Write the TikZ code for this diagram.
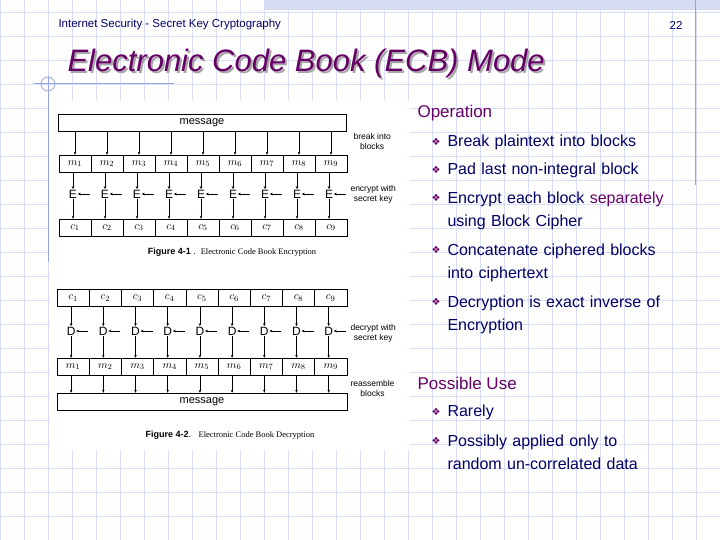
\documentclass[tikz,border=0pt]{standalone}
\usepackage{fontspec}
\setmainfont{Liberation Sans}
\newfontfamily\dejavu{DejaVu Sans}
\usetikzlibrary{arrows.meta}
\definecolor{grid}{RGB}{215,222,245}
\definecolor{purp}{RGB}{102,0,102}
\definecolor{navy}{RGB}{0,0,102}
\definecolor{lineblue}{RGB}{150,165,225}
\begin{document}
\begin{tikzpicture}[x=1pt,y=-1pt,
  cell/.style={draw,minimum width=32pt,minimum height=17pt,inner sep=0pt,font=\fontsize{11}{11}\selectfont\itshape},
  bar/.style={draw,minimum width=288pt,minimum height=17pt,inner sep=0pt,font=\fontsize{11}{11}\selectfont},
  op/.style={inner sep=0.5pt,font=\fontsize{12}{12}\selectfont},
  arr/.style={-{Stealth[length=3pt,width=2.5pt]},line width=0.5pt},
  side/.style={align=center,font=\fontsize{8.5}{10}\selectfont,anchor=west},
  figcap/.style={font=\fontsize{9}{9}\selectfont},
  bl/.style={anchor=west,text=navy,font=\fontsize{16}{23}\selectfont,align=left,text width=270pt},
  bul/.style={anchor=west,text=purp,font=\dejavu\fontsize{10}{10}\selectfont},
  hd/.style={anchor=west,text=purp,font=\fontsize{17}{17}\selectfont}]
\useasboundingbox (0,0) rectangle (720,540);
\fill[white] (0,0) rectangle (720,540);
\foreach \x in {0,24,...,720} \draw[grid,line width=0.8pt] (\x,0)--(\x,540);
\foreach \y in {12,36,...,540} \draw[grid,line width=0.8pt] (0,\y)--(720,\y);
\fill[lineblue!40] (265,0) rectangle (720,10);
\draw[lineblue,line width=1pt] (695,0)--(695,185);
\draw[lineblue,line width=1pt] (48,76)--(48,262);
\draw[lineblue,line width=1pt] (34,84)--(174,84);
\draw[lineblue,line width=0.8pt] (48,84) circle (7);
\fill[white] (50,100) rectangle (410,450);
\node[anchor=west,text=navy,font=\fontsize{11.5}{11.5}\selectfont] (hdr) at (55,25) {Internet Security - Secret Key Cryptography};
\node[text=navy,font=\fontsize{11.5}{11.5}\selectfont] (pg) at (676,25) {22};
\node[anchor=west,text=black!35,font=\fontsize{31}{31}\selectfont\itshape] (ttls) at (66,65) {Electronic Code Book (ECB) Mode};
\node[anchor=west,text=purp,font=\fontsize{31}{31}\selectfont\itshape] (ttl) at (64,63) {Electronic Code Book (ECB) Mode};
% top figure
\node[bar] (msg1) at (202,123) {message};
\foreach \i in {1,...,9}{
  \pgfmathsetmacro\cx{59+32*(\i-0.5)}
  \node[cell] (m\i) at (\cx,163.5) {$m_{\i}$};
  \node[op] (e\i) at (\cx-2,194) {E};
  \node[cell] (c\i) at (\cx,227.5) {$c_{\i}$};
  \draw[arr] (msg1.south -| m\i) -- (m\i.north);
  \draw[arr] (m\i.south -| e\i) -- (e\i.north);
  \draw[arr] (e\i.south) -- (c\i.north -| e\i);
  \coordinate (k\i) at ([xshift=12pt]e\i.east);
  \draw[arr] (k\i) -- (e\i.east);
}
\node[side] (brk) at (350,141) {break into\\blocks};
\node[side] (enc) at (347,194) {encrypt with\\secret key};
\node[figcap] (cap1) at (232,252) {\textbf{Figure 4-1} .\ \ {\fontspec{Liberation Serif}\fontsize{8.5}{8.5}\selectfont Electronic Code Book Encryption}};
% bottom figure
\foreach \i in {1,...,9}{
  \pgfmathsetmacro\cx{57+32.2*(\i-0.5)}
  \node[cell,minimum width=32.2pt] (cc\i) at (\cx,298) {$c_{\i}$};
  \node[op] (d\i) at (\cx-2,331) {D};
  \node[cell,minimum width=32.2pt] (mm\i) at (\cx,366.5) {$m_{\i}$};
  \draw[arr] (cc\i.south -| d\i) -- (d\i.north);
  \draw[arr] (d\i.south) -- (mm\i.north -| d\i);
  \coordinate (kk\i) at ([xshift=12pt]d\i.east);
  \draw[arr] (kk\i) -- (d\i.east);
}
\node[bar,minimum width=290pt] (msg2) at (202,401.5) {message};
\foreach \i in {1,...,9} \draw[arr] (mm\i.south -| d\i) -- (msg2.north -| d\i);
\node[side] (dec) at (347,333) {decrypt with\\secret key};
\node[side] (rea) at (347,388) {reassemble\\blocks};
\node[figcap] (cap2) at (230,435) {\textbf{Figure 4-2}.\ \ \ {\fontspec{Liberation Serif}\fontsize{8.5}{8.5}\selectfont Electronic Code Book Decryption}};
% right text
\node[hd] (h1) at (414,113) {Operation};
\node[bul] (b1) at (428,142) {❖}; \node[bl] (t1) at (444,142) {Break plaintext into blocks};
\node[bul] (b2) at (428,170) {❖}; \node[bl] (t2) at (444,170) {Pad last non-integral block};
\node[bul] (b3) at (428,198) {❖}; \node[bl,anchor=north west] (t3) at (444,188) {Encrypt each block \textcolor{purp}{separately}\\using Block Cipher};
\node[bul] (b4) at (428,250) {❖}; \node[bl,anchor=north west] (t4) at (444,240) {Concatenate ciphered blocks\\into ciphertext};
\node[bul] (b5) at (428,302) {❖}; \node[bl,anchor=north west] (t5) at (444,292) {Decryption is exact inverse of\\Encryption};
\node[hd] (h2) at (414,383) {Possible Use};
\node[bul] (b6) at (428,412) {❖}; \node[bl] (t6) at (444,412) {Rarely};
\node[bul] (b7) at (428,441) {❖}; \node[bl,anchor=north west] (t7) at (444,431) {Possibly applied only to\\random un-correlated data};
\end{tikzpicture}
\end{document}
